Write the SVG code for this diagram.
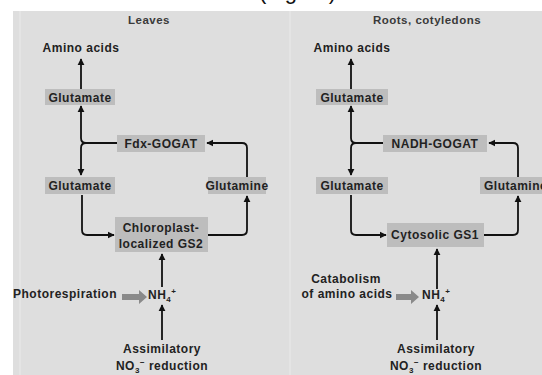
<svg xmlns="http://www.w3.org/2000/svg" width="542" height="375" viewBox="0 0 542 375">
<defs>
<style>
.t{font-family:"Liberation Sans",Arial,sans-serif;font-weight:bold;font-size:12px;fill:#222;letter-spacing:0.5px}
.ttl{font-family:"Liberation Sans",Arial,sans-serif;font-weight:bold;font-size:11.5px;fill:#3a3a3a;letter-spacing:0.5px}
.m{text-anchor:middle}
.box{fill:#bdbdbd}
.ln{fill:none;stroke:#111;stroke-width:1.8}
.ar{fill:none;stroke:#111;stroke-width:1.8;marker-end:url(#ah)}
.big{fill:#8a8a8a}
</style>
<marker id="ah" viewBox="0 0 10 10" refX="9" refY="5" markerWidth="4" markerHeight="4" orient="auto" markerUnits="strokeWidth">
<path d="M0,0 L10,5 L0,10 z" fill="#111"/>
</marker>
</defs>
<rect width="542" height="375" fill="#fff"/>
<rect x="13" y="11" width="529" height="364" fill="#dedede"/>
<line x1="20" y1="11" x2="20" y2="375" stroke="#e6e6e6" stroke-width="1.5"/>
<line x1="290" y1="11" x2="290" y2="375" stroke="#e6e6e6" stroke-width="1.5"/>
<text x="259" y="-1" font-family="Liberation Sans,Arial,sans-serif" font-size="22" fill="#111">(Figure)</text>

<text class="ttl m" x="149" y="24">Leaves</text>
<text class="ttl m" x="427" y="24">Roots, cotyledons</text>

<g id="connectors">
<path class="ar" d="M81,89 V59"/>
<path class="ar" d="M117,143 H86 Q81,143 81,138 V106"/>
<path class="ar" d="M117,143 H86 Q81,143 81,148 V175"/>
<path class="ar" d="M247,177 V148 Q247,143 242,143 H207"/>
<path class="ar" d="M82,195 V230 Q82,235 87,235 H114"/>
<path class="ar" d="M208,235 H242 Q247,235 247,230 V196"/>
<path class="ar" d="M162,287 V254"/>
<path class="ar" d="M162,340 V305"/>
<path class="big" d="M122,294 H139 V290 L147,297 L139,304 V300 H122 Z"/>

<path class="ar" d="M351,89 V59"/>
<path class="ar" d="M383,143 H356 Q351,143 351,138 V106"/>
<path class="ar" d="M383,143 H356 Q351,143 351,148 V175"/>
<path class="ar" d="M518,177 V148 Q518,143 513,143 H489"/>
<path class="ar" d="M351,195 V230 Q351,235 356,235 H386"/>
<path class="ar" d="M484,235 H513 Q518,235 518,230 V196"/>
<path class="ar" d="M437,289 V249"/>
<path class="ar" d="M437,340 V305"/>
<path class="big" d="M396,294 H411 V290 L419,297 L411,304 V300 H396 Z"/>
</g>

<g id="L_amino"><text class="t m" x="81" y="52">Amino acids</text></g>
<g id="L_glu1"><rect class="box" x="45" y="89" width="70" height="16"/><text class="t m" x="80" y="101.5">Glutamate</text></g>
<g id="L_gogat"><rect class="box" x="117" y="135" width="88" height="17"/><text class="t m" x="161" y="148">Fdx-GOGAT</text></g>
<g id="L_glu2"><rect class="box" x="45" y="177" width="70" height="17"/><text class="t m" x="80" y="190">Glutamate</text></g>
<g id="L_gln"><rect class="box" x="208" y="177" width="58" height="17"/><text class="t m" x="237" y="190">Glutamine</text></g>
<g id="L_gs2"><rect class="box" x="115" y="217" width="93" height="35"/><text class="t m" x="161" y="232">Chloroplast-</text><text class="t m" x="161" y="248">localized GS2</text></g>
<g id="L_photo"><text class="t" x="13" y="298">Photorespiration</text></g>
<g id="L_nh4"><text class="t" x="148" y="299" font-size="13">NH<tspan font-size="8" dy="3">4</tspan><tspan font-size="8" dy="-8">+</tspan></text></g>
<g id="L_no3"><text class="t m" x="162" y="353">Assimilatory</text><text class="t m" x="162" y="370">NO<tspan font-size="8" dy="3">3</tspan><tspan font-size="8" dy="-8">−</tspan><tspan dy="5"> reduction</tspan></text></g>

<g id="R_amino"><text class="t m" x="352" y="52">Amino acids</text></g>
<g id="R_glu1"><rect class="box" x="316" y="89" width="72" height="16"/><text class="t m" x="352" y="101.5">Glutamate</text></g>
<g id="R_gogat"><rect class="box" x="383" y="135" width="104" height="17"/><text class="t m" x="435" y="148">NADH-GOGAT</text></g>
<g id="R_glu2"><rect class="box" x="316" y="177" width="72" height="17"/><text class="t m" x="352" y="190">Glutamate</text></g>
<g id="R_gln"><rect class="box" x="480" y="177" width="70" height="17"/><text class="t" x="484" y="190">Glutamine</text></g>
<g id="R_gs1"><rect class="box" x="387" y="223" width="97" height="24"/><text class="t m" x="435" y="239">Cytosolic GS1</text></g>
<g id="R_cat"><text class="t m" x="346" y="283">Catabolism</text><text class="t m" x="347" y="298">of amino acids</text></g>
<g id="R_nh4"><text class="t" x="422" y="299" font-size="13">NH<tspan font-size="8" dy="3">4</tspan><tspan font-size="8" dy="-8">+</tspan></text></g>
<g id="R_no3"><text class="t m" x="436" y="353">Assimilatory</text><text class="t m" x="436" y="370">NO<tspan font-size="8" dy="3">3</tspan><tspan font-size="8" dy="-8">−</tspan><tspan dy="5"> reduction</tspan></text></g>
</svg>
